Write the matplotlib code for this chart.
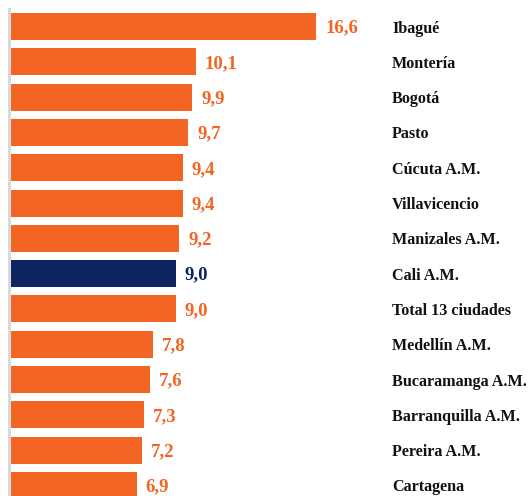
import matplotlib.pyplot as plt
from matplotlib.transforms import offset_copy

# data
cities = ["Ibagué", "Montería", "Bogotá", "Pasto", "Cúcuta A.M.", "Villavicencio",
          "Manizales A.M.", "Cali A.M.", "Total 13 ciudades", "Medellín A.M.",
          "Bucaramanga A.M.", "Barranquilla A.M.", "Pereira A.M.", "Cartagena"]
values = [16.6, 10.1, 9.9, 9.7, 9.4, 9.4, 9.2, 9.0, 9.0, 7.8, 7.6, 7.3, 7.2, 6.9]
highlight = "Cali A.M."

orange = "#F26522"
navy = "#0D2461"

fig = plt.figure(figsize=(5.29, 4.96), dpi=100)
W, H = 529, 496
ax = fig.add_axes([9 / W, (H - 503) / H, (392 - 9) / W, (503 - 9) / H])

pos = list(range(len(cities)))
colors = [navy if c == highlight else orange for c in cities]
ax.barh(pos, values, height=0.765, color=colors, zorder=2)

ax.set_ylim(len(cities) - 0.5, -0.5)
ax.set_xlim(0, (392 - 9) / 18.5)

# value labels at the end of each bar
lab_tr = offset_copy(ax.transData, fig=fig, x=9, y=-1.5, units="dots")
for i, (v, c) in enumerate(zip(values, colors)):
    ax.text(v, i, f"{v:.1f}".replace(".", ","), transform=lab_tr,
            ha="left", va="center", color=c, fontsize=13.5,
            fontweight="bold", family="Liberation Serif")

# city names on the right side
ax.yaxis.tick_right()
ax.set_yticks(pos)
ax.set_yticklabels(cities, fontsize=11.6, fontweight="bold",
                   family="Liberation Serif", color="#111111")
ax.tick_params(axis="y", length=0, pad=0)
ax.set_xticks([])

for s in ["top", "right", "bottom"]:
    ax.spines[s].set_visible(False)
ax.spines["left"].set_color("#D9D9D9")
ax.spines["left"].set_linewidth(2.2)

fig.savefig("out.png", dpi=100)
